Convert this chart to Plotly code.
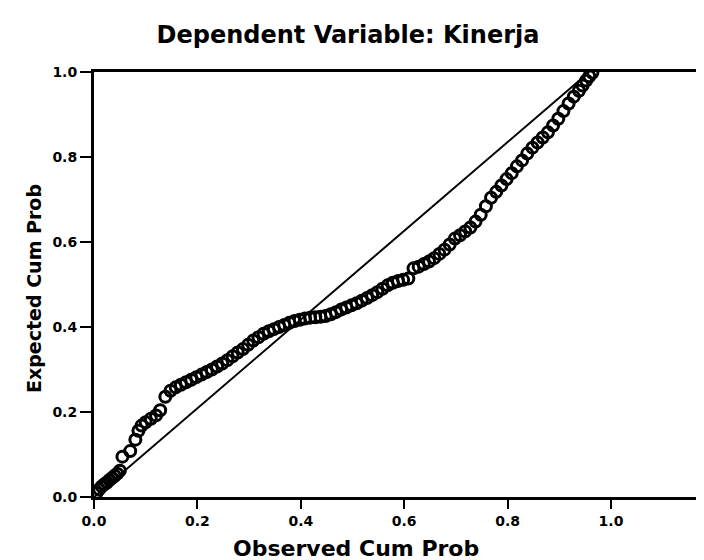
import plotly.graph_objects as go

# Observed cumulative probability (x) and expected cumulative probability (y)
observed_cum_prob = [
    0.005, 0.010, 0.015, 0.020, 0.025, 0.030, 0.035, 0.040, 0.045, 0.050,
    0.055, 0.070, 0.080, 0.086, 0.092, 0.100, 0.110, 0.120, 0.128, 0.138,
    0.148, 0.158, 0.168, 0.178, 0.188, 0.198, 0.208, 0.218, 0.228, 0.238,
    0.248, 0.258, 0.268, 0.278, 0.288, 0.298, 0.308, 0.318, 0.328, 0.338,
    0.348, 0.358, 0.368, 0.378, 0.388, 0.398, 0.408, 0.418, 0.428, 0.438,
    0.448, 0.458, 0.468, 0.478, 0.488, 0.498, 0.508, 0.518, 0.528, 0.538,
    0.548, 0.558, 0.568, 0.578, 0.588, 0.598, 0.608, 0.618, 0.628, 0.638,
    0.648, 0.658, 0.668, 0.678, 0.688, 0.698, 0.708, 0.718, 0.728, 0.738,
    0.748, 0.758, 0.768, 0.778, 0.788, 0.798, 0.808, 0.818, 0.828, 0.838,
    0.848, 0.858, 0.868, 0.878, 0.888, 0.898, 0.908, 0.918, 0.928, 0.938,
    0.945, 0.952, 0.958, 0.964,
]
expected_cum_prob = [
    0.010, 0.018, 0.025, 0.030, 0.034, 0.040, 0.045, 0.050, 0.055, 0.062,
    0.095, 0.108, 0.135, 0.156, 0.168, 0.176, 0.184, 0.192, 0.204, 0.236,
    0.250, 0.258, 0.264, 0.270, 0.276, 0.282, 0.288, 0.294, 0.300, 0.307,
    0.314, 0.322, 0.331, 0.340, 0.348, 0.358, 0.368, 0.376, 0.384, 0.390,
    0.395, 0.400, 0.405, 0.410, 0.414, 0.417, 0.420, 0.422, 0.423, 0.424,
    0.426, 0.430, 0.435, 0.441, 0.446, 0.451, 0.456, 0.462, 0.468, 0.475,
    0.482, 0.490, 0.498, 0.504, 0.508, 0.511, 0.514, 0.538, 0.542, 0.548,
    0.554, 0.562, 0.572, 0.582, 0.594, 0.608, 0.616, 0.625, 0.634, 0.648,
    0.664, 0.684, 0.704, 0.718, 0.733, 0.748, 0.762, 0.778, 0.792, 0.808,
    0.822, 0.834, 0.846, 0.858, 0.874, 0.890, 0.908, 0.926, 0.942, 0.956,
    0.968, 0.980, 0.990, 0.998,
]

# Reference (diagonal) line endpoints as drawn in the picture
ref_line_x = [0.0, 0.958]
ref_line_y = [0.0, 1.0]

tick_values = [0.0, 0.2, 0.4, 0.6, 0.8, 1.0]
tick_labels = ["0.0", "0.2", "0.4", "0.6", "0.8", "1.0"]

title_text = "Dependent Variable: Kinerja"
x_title = "Observed Cum Prob"
y_title = "Expected Cum Prob"

W, H = 704, 560
L, R, T, B = 86, 0, 64, 71
plot_w = W - L - R
plot_h = H - T - B
bottom_px = H - B

fig = go.Figure()

fig.add_trace(go.Scatter(
    x=ref_line_x, y=ref_line_y, mode="lines",
    line=dict(color="black", width=2), hoverinfo="skip", showlegend=False,
))

fig.add_trace(go.Scatter(
    x=observed_cum_prob, y=expected_cum_prob, mode="markers",
    marker=dict(symbol="circle-open", size=11, color="black",
                line=dict(color="black", width=3)),
    showlegend=False,
))

bold_font = "DejaVu Sans, sans-serif"
tick_font = dict(family="DejaVu Sans, sans-serif", size=14, color="black", weight="bold")

fig.update_layout(
    width=W, height=H,
    margin=dict(l=L, r=R, t=T, b=B),
    paper_bgcolor="white", plot_bgcolor="white",
    font=dict(family="DejaVu Sans, sans-serif", color="black", size=14),
    title=dict(text="<b>" + title_text + "</b>", x=340 / W, xanchor="center",
               y=1 - 27 / H, yanchor="middle",
               font=dict(family=bold_font, size=24, color="black")),
    xaxis=dict(range=[0, plot_w / 517], tickvals=tick_values, ticktext=tick_labels,
               showgrid=False, zeroline=False, showline=True, linecolor="black",
               linewidth=2.5, mirror=True, ticks="outside", ticklen=9,
               tickwidth=2, tickcolor="black", tickfont=tick_font),
    yaxis=dict(range=[0, 1.0], tickvals=tick_values, ticktext=tick_labels,
               showgrid=False, zeroline=False, showline=True, linecolor="black",
               linewidth=3, mirror=False, ticks="outside", ticklen=11,
               tickwidth=2, tickcolor="black", tickfont=tick_font),
    annotations=[
        dict(text="<b>" + x_title + "</b>", xref="paper", yref="paper",
             x=(348 - L) / plot_w, y=-(540 - bottom_px) / plot_h,
             xanchor="center", yanchor="middle", showarrow=False,
             font=dict(family=bold_font, size=22, color="black")),
        dict(text="<b>" + y_title + "</b>", xref="paper", yref="paper",
             x=-(L - 26) / plot_w, y=(bottom_px - 281) / plot_h,
             xanchor="center", yanchor="middle", textangle=-90, showarrow=False,
             font=dict(family=bold_font, size=19, color="black")),
    ],
)

fig.write_html("out.html")
